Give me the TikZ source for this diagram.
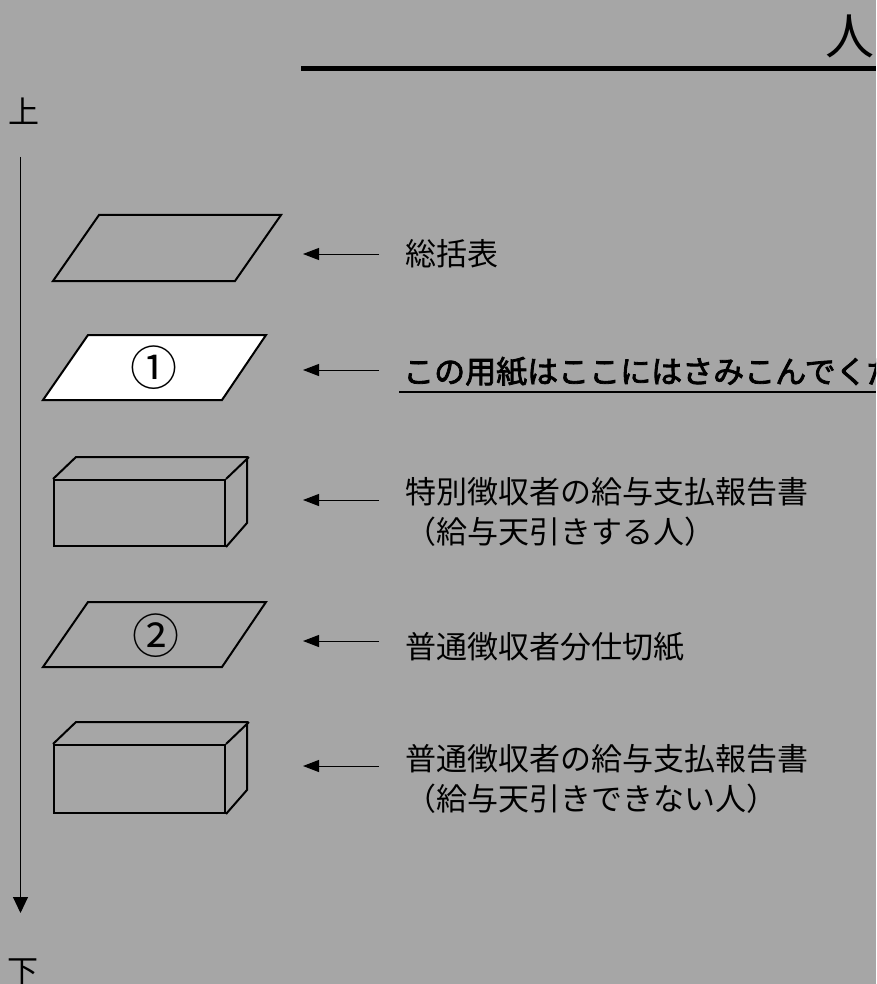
\documentclass[tikz,border=0pt]{standalone}
\usepackage{fontspec}
\setmainfont{Noto Sans CJK JP}
\newfontfamily\jpmed[FakeBold=2.5]{Noto Sans CJK JP}
\usetikzlibrary{arrows.meta}
\definecolor{bg}{RGB}{166,166,166}
\tikzset{
  shp/.style={draw=black, line width=2pt, line join=miter},
  txt/.style={inner sep=0pt, anchor=base west, font=\fontsize{31}{40}\selectfont},
  ptr/.style={draw=black, line width=1pt, -{Triangle[length=16pt,width=12pt]}},
  num/.style={inner sep=0pt, anchor=base, font=\fontsize{47}{50}\selectfont}
}
\begin{document}
\begin{tikzpicture}[x=1pt,y=-1pt]
\fill[bg] (0,0) rectangle (876,984);
\useasboundingbox (0,0) rectangle (876,984);
\clip (0,0) rectangle (876,984);

% title
\node[inner sep=0pt, anchor=base west, font=\fontsize{49}{50}\selectfont] (title) at (825,55) {人};
\coordinate (tl) at (301,68.5);
\coordinate (tr) at (876,68.5);
\draw[line width=5pt] (tl) -- (tr);

% vertical axis
\node[txt] (up) at (8,124) {上};
\node[txt] (down) at (7,982) {下};
\coordinate (vtop) at (20.5,157);
\coordinate (vbot) at (20.5,913);
\draw[draw=black, line width=1pt, -{Triangle[length=16pt,width=15pt]}] (vtop) -- (vbot);

% sheet 1 (summary)
\draw[shp] (99,215) -- (281,215) -- (235,281) -- (53,281) -- cycle;
% sheet (1) white
\draw[shp, fill=white] (88,335) -- (266,335) -- (222,400) -- (43,400) -- cycle;
\node[num] (n1) at (154,385) {①};
% box 1
\node[shp, fill=none, minimum width=171pt, minimum height=66pt, inner sep=0pt, anchor=north west] (box1) at (53,479) {};
\draw[shp] (box1.north west) -- ++(23,-22) -- ++(171,0) -- ++(0,66) -- (box1.south east);
\draw[shp] (box1.north east) -- ++(23,-22);
% sheet (2)
\draw[shp] (88,602) -- (266,602) -- (222,667) -- (43,667) -- cycle;
\node[num] (n2) at (156,653) {②};
% box 2
\node[shp, fill=none, minimum width=171pt, minimum height=68pt, inner sep=0pt, anchor=north west] (box2) at (53,744) {};
\draw[shp] (box2.north west) -- ++(23,-22) -- ++(171,0) -- ++(0,68) -- (box2.south east);
\draw[shp] (box2.north east) -- ++(23,-22);

% labels
\node[txt] (t1) at (405,265) {総括表};
\node[txt, font=\fontsize{31}{40}\jpmed] (t2) at (403,383) {この用紙はここにはさみこんでください};
\coordinate (ul1) at (399,392);
\coordinate (ul2) at (876,392);
\draw[line width=2pt] (ul1) -- (ul2);
\node[txt] (t3a) at (405,503) {特別徴収者の給与支払報告書};
\node[txt] (t3b) at (405,543) {（給与天引きする人）};
\node[txt] (t4) at (405,658) {普通徴収者分仕切紙};
\node[txt] (t5a) at (405,770) {普通徴収者の給与支払報告書};
\node[txt] (t5b) at (405,810) {（給与天引きできない人）};

% pointers
\coordinate (a1s) at (379,254); \coordinate (a1e) at (303,254);
\coordinate (a2s) at (379,370); \coordinate (a2e) at (303,370);
\coordinate (a3s) at (379,500); \coordinate (a3e) at (303,500);
\coordinate (a4s) at (379,641); \coordinate (a4e) at (303,641);
\coordinate (a5s) at (379,766); \coordinate (a5e) at (303,766);
\draw[ptr] (a1s) -- (a1e);
\draw[ptr] (a2s) -- (a2e);
\draw[ptr] (a3s) -- (a3e);
\draw[ptr] (a4s) -- (a4e);
\draw[ptr] (a5s) -- (a5e);
\end{tikzpicture}
\end{document}
